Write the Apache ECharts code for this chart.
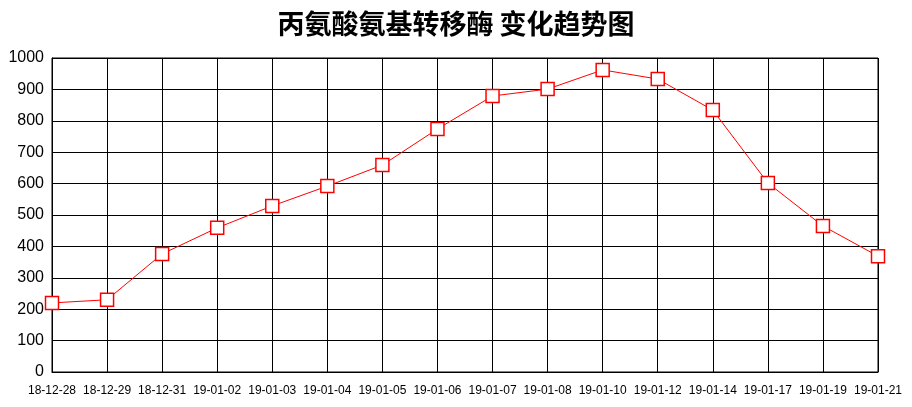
<!DOCTYPE html>
<html><head><meta charset="utf-8">
<script src="https://cdn.jsdelivr.net/npm/echarts@6/dist/echarts.min.js"></script>
<style>html,body{margin:0;padding:0;background:#fff}#c{width:912px;height:407px}</style>
</head><body><div id="c"></div>
<script>
const titleText = '丙氨酸氨基转移酶 变化趋势图';
const categories = ['18-12-28','18-12-29','18-12-31','19-01-02','19-01-03','19-01-04','19-01-05','19-01-06','19-01-07','19-01-08','19-01-10','19-01-12','19-01-14','19-01-17','19-01-19','19-01-21'];
const values = [220,230,376,459,529,592,659,774,879,901,962,933,834,602,465,369];
const yMin = 0, yMax = 1000, yStep = 100;

const chart = echarts.init(document.getElementById('c'), null, {renderer:'canvas'});
chart.setOption({
  animation:false,
  backgroundColor:'#fff',
  title:{text:titleText,left:'center',top:5,textStyle:{fontFamily:'Noto Sans CJK SC',fontSize:27,fontWeight:'bold',color:'#000'}},
  grid:{left:52,right:34,top:58,bottom:35,show:true,borderColor:'#000',borderWidth:1},
  xAxis:{type:'category',data:categories,boundaryGap:false,
    axisLine:{lineStyle:{color:'#000',width:1}},axisTick:{show:false},
    axisLabel:{color:'#000',fontFamily:'Liberation Sans',fontSize:12,margin:13,interval:0},
    splitLine:{show:true,lineStyle:{color:'#000',width:1}}},
  yAxis:{type:'value',min:yMin,max:yMax,interval:yStep,
    axisLine:{show:true,lineStyle:{color:'#000',width:1}},axisTick:{show:false},
    axisLabel:{color:'#000',fontFamily:'Liberation Sans',fontSize:16,margin:8,formatter:v=>String(v)},
    splitLine:{show:true,lineStyle:{color:'#000',width:1}}},
  series:[{type:'line',data:values,symbol:'rect',symbolSize:13,
    lineStyle:{color:'#f00',width:1},
    itemStyle:{color:'#fff',borderColor:'#f00',borderWidth:1.5}}]
});
</script></body></html>
